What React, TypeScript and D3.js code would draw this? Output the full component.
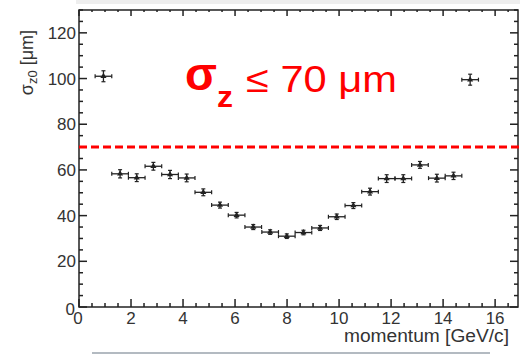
import React, { useEffect, useRef } from "react";
import * as d3 from "d3";

// bin centres (GeV/c) and resolution values (um)
const momentum = [0.94, 1.58, 2.22, 2.86, 3.5, 4.14, 4.78, 5.42, 6.06, 6.7, 7.35, 7.99, 8.63, 9.27, 9.91, 10.55, 11.19, 11.83, 12.47, 13.11, 13.76, 14.4, 15.04];
const sigma = [101, 58.3, 56.6, 61.6, 58, 56.5, 50.2, 44.6, 40.2, 35, 32.8, 31, 32.6, 34.6, 39.5, 44.4, 50.5, 56.2, 56.2, 62.2, 56.4, 57.4, 99.5];
const sigmaErr = [2.4, 1.8, 1.7, 1.7, 1.8, 1.7, 1.5, 1.3, 1.2, 1.1, 1.0, 1.0, 1.0, 1.1, 1.2, 1.3, 1.5, 1.7, 1.7, 1.5, 1.7, 1.6, 2.4];
const binHalfWidth = 0.32;
const limit = 70;
const xTicks = [0, 2, 4, 6, 8, 10, 12, 14, 16];
const yTicks = [0, 20, 40, 60, 80, 100, 120];

export default function App() {
  const ref = useRef(null);
  const W = 520, H = 354;
  const margin = { top: 10, right: 2, bottom: 47, left: 79 };
  const width = W - margin.left - margin.right;
  const height = H - margin.top - margin.bottom;

  const x = d3.scaleLinear().domain([0, 16.88]).range([0, width]);
  const y = d3.scaleLinear().domain([0, 130]).range([height, 0]);

  useEffect(() => {
    const g = d3.select(ref.current);
    g.selectAll("*").remove();
    const ink = "#222";
    const font = "Arial, 'Liberation Sans', sans-serif";

    // minor + major ticks on all four sides (ROOT style, inward)
    const xMinor = d3.range(0, 16.9, 0.5);
    const yMinor = d3.range(0, 130.1, 5);
    xMinor.forEach((v) => {
      const major = Math.abs(v % 2) < 1e-6;
      const len = major ? 8 : 4;
      g.append("line").attr("x1", x(v)).attr("x2", x(v)).attr("y1", height).attr("y2", height - len).attr("stroke", ink).attr("stroke-width", 1.5);
      g.append("line").attr("x1", x(v)).attr("x2", x(v)).attr("y1", 0).attr("y2", len - 2).attr("stroke", ink).attr("stroke-width", 1.5);
    });
    yMinor.forEach((v) => {
      const major = Math.abs(v % 20) < 1e-6;
      const len = major ? 8 : 4;
      g.append("line").attr("x1", 0).attr("x2", len).attr("y1", y(v)).attr("y2", y(v)).attr("stroke", ink).attr("stroke-width", 1.5);
      g.append("line").attr("x1", width).attr("x2", width - len).attr("y1", y(v)).attr("y2", y(v)).attr("stroke", ink).attr("stroke-width", 1.5);
    });

    // frame
    g.append("rect").attr("x", 0).attr("y", 0).attr("width", width).attr("height", height)
      .attr("fill", "none").attr("stroke", ink).attr("stroke-width", 1.5);

    // tick labels
    g.selectAll(".xl").data(xTicks).enter().append("text")
      .attr("x", (d) => (d === 0 ? x(d) - 1 : x(d))).attr("y", height + 17)
      .attr("text-anchor", "middle").attr("font-family", font).attr("font-size", 17).attr("fill", "#333")
      .text((d) => d);
    g.selectAll(".yl").data(yTicks).enter().append("text")
      .attr("x", (d) => (d === 0 ? -4 : -3)).attr("y", (d) => (d === 0 ? y(d) + 8 : y(d) + 6))
      .attr("text-anchor", "end").attr("font-family", font).attr("font-size", 17).attr("fill", "#333")
      .text((d) => d);

    // axis titles
    g.append("text").attr("x", width - 174).attr("y", height + 35)
      .attr("textLength", 165).attr("lengthAdjust", "spacingAndGlyphs")
      .attr("font-family", font).attr("font-size", 18).attr("fill", "#333")
      .text("momentum [GeV/c]");
    const yt = g.append("text").attr("transform", `translate(${-46},${y(107)}) rotate(-90)`)
      .attr("text-anchor", "middle").attr("font-family", font).attr("font-size", 18).attr("fill", "#333");
    yt.append("tspan").text("σ");
    yt.append("tspan").attr("font-size", 13).attr("dy", 4).text("z0");
    yt.append("tspan").attr("dy", -4).text(" [μm]");

    // limit line
    g.append("line").attr("x1", 0).attr("x2", width + 2).attr("y1", y(limit)).attr("y2", y(limit))
      .attr("stroke", "#ff0000").attr("stroke-width", 3).attr("stroke-dasharray", "8,4");

    // limit annotation
    g.append("text").attr("x", 106).attr("y", 80)
      .attr("textLength", 32).attr("lengthAdjust", "spacingAndGlyphs")
      .attr("font-family", font).attr("font-size", 46).attr("font-weight", "bold").attr("fill", "#ff0000")
      .text("σ");
    g.append("text").attr("x", 138).attr("y", 97)
      .attr("textLength", 16).attr("lengthAdjust", "spacingAndGlyphs")
      .attr("font-family", font).attr("font-size", 30).attr("font-weight", "bold").attr("fill", "#ff0000")
      .text("z");
    g.append("text").attr("x", 167).attr("y", 82)
      .attr("textLength", 151).attr("lengthAdjust", "spacingAndGlyphs")
      .attr("font-family", font).attr("font-size", 37).attr("fill", "#ff0000")
      .text("≤ 70 μm");

    // error bars + markers
    const pts = momentum.map((m, i) => ({ m, s: sigma[i], e: sigmaErr[i] }));
    const pg = g.selectAll(".pt").data(pts).enter().append("g");
    pg.append("line").attr("x1", (d) => x(d.m - binHalfWidth)).attr("x2", (d) => x(d.m + binHalfWidth))
      .attr("y1", (d) => y(d.s)).attr("y2", (d) => y(d.s)).attr("stroke", ink).attr("stroke-width", 1.3);
    pg.append("line").attr("x1", (d) => x(d.m)).attr("x2", (d) => x(d.m))
      .attr("y1", (d) => y(d.s - d.e)).attr("y2", (d) => y(d.s + d.e)).attr("stroke", ink).attr("stroke-width", 1.3);
    // end caps
    [-1, 1].forEach((sgn) => {
      pg.append("line").attr("x1", (d) => x(d.m + sgn * binHalfWidth)).attr("x2", (d) => x(d.m + sgn * binHalfWidth))
        .attr("y1", (d) => y(d.s) - 2).attr("y2", (d) => y(d.s) + 2).attr("stroke", ink).attr("stroke-width", 1.2);
      pg.append("line").attr("x1", (d) => x(d.m) - 2).attr("x2", (d) => x(d.m) + 2)
        .attr("y1", (d) => y(d.s + sgn * d.e)).attr("y2", (d) => y(d.s + sgn * d.e)).attr("stroke", ink).attr("stroke-width", 1.2);
    });
    pg.append("path")
      .attr("d", d3.symbol(d3.symbolTriangle, 16))
      .attr("transform", (d) => `translate(${x(d.m)},${y(d.s)})`)
      .attr("fill", ink);
  }, []);

  return (
    <div style={{ position: "fixed", left: 0, top: 0, width: W, height: H, background: "#fff" }}>
      <svg width={W} height={H} style={{ display: "block" }}>
        <rect x={76} y={0} width={444} height={4} fill="#eeeeee" />
        <line x1={92} x2={490} y1={353} y2={353} stroke="#9aa3ad" strokeWidth={1.5} />
        <g ref={ref} transform={`translate(${margin.left}, ${margin.top})`} />
      </svg>
    </div>
  );
}
